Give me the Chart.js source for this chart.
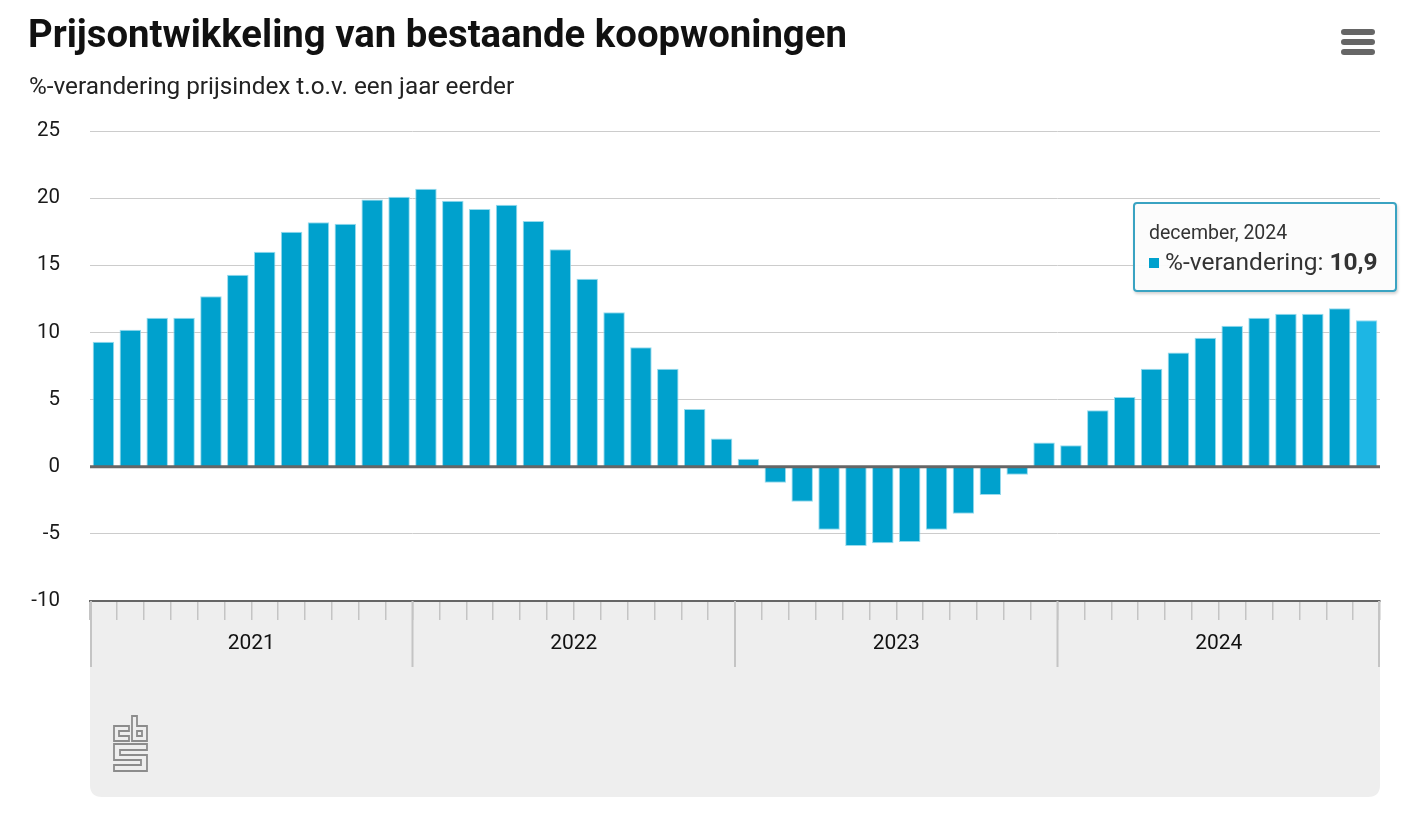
<!DOCTYPE html>
<html lang="nl">
<head>
  <meta charset="UTF-8" />
  <title>Prijsontwikkeling van bestaande koopwoningen</title>
  <script src="https://cdn.jsdelivr.net/npm/chart.js"></script>
  <style>
    html, body { margin: 0; padding: 0; background: #fff; }
    body { width: 1416px; height: 817px; position: relative; overflow: hidden; font-family: Roboto, sans-serif; }
    .titel { position: absolute; left: 28px; top: 11px; font-size: 38.3px; font-weight: 700; color: #111; white-space: nowrap; }
    .sub { position: absolute; left: 29px; top: 71px; font-size: 24.3px; color: #222; white-space: nowrap; }
    .menu { position: absolute; left: 1341px; top: 29px; width: 34px; }
    .menu span { display: block; height: 6px; border-radius: 3px; background: #666; margin-bottom: 4px; }
    .wrap { position: absolute; left: 0; top: 0; width: 1416px; height: 817px; }
    .logo { position: absolute; left: 112px; top: 714px; }
    .tip { position: absolute; left: 1133px; top: 202px; width: 264px; height: 90px; box-sizing: border-box;
           border: 2px solid #3aa3c2; border-radius: 4px; background: rgba(252,252,252,0.96);
           box-shadow: 1px 2px 3px rgba(0,0,0,0.18); padding: 17px 0 0 14px; color: #333; }
    .tip .kop { font-size: 19.5px; }
    .tip .regel { font-size: 24.5px; margin-top: 3px; }
    .tip .blok { display: inline-block; width: 10px; height: 10px; background: #00a1cd; margin-right: 6px; vertical-align: 2px; }
  </style>
</head>
<body>
  <div class="wrap"><canvas id="chart"></canvas></div>
  <div class="titel">Prijsontwikkeling van bestaande koopwoningen</div>
  <div class="sub">%-verandering prijsindex t.o.v. een jaar eerder</div>
  <div class="menu"><span></span><span></span><span></span></div>
  <svg class="logo" width="40" height="60" viewBox="0 0 40 60" fill="none" stroke="#8c8c8c" stroke-width="1.8">
    <path d="M2 12 H17 V17 H7 V22 H17 V27 H2 Z" />
    <path d="M20 2 H25 V12 H35 V27 H20 Z" />
    <path d="M25 17 H30 V22 H25 Z" />
    <path d="M2 30 H35 V36 H8 V41 H35 V57 H2 V51 H29 V46 H2 Z" />
  </svg>
  <div class="tip" id="tip"></div>

<script>
const jaren = ['2021', '2022', '2023', '2024'];
const maanden = ['januari', 'februari', 'maart', 'april', 'mei', 'juni',
  'juli', 'augustus', 'september', 'oktober', 'november', 'december'];

// %-verandering t.o.v. een jaar eerder, per maand
const waarden2021 = [9.3, 10.2, 11.1, 11.1, 12.7, 14.3, 16.0, 17.5, 18.2, 18.1, 19.9, 20.1];
const waarden2022 = [20.7, 19.8, 19.2, 19.5, 18.3, 16.2, 14.0, 11.5, 8.9, 7.3, 4.3, 2.1];
const waarden2023 = [0.6, -1.2, -2.6, -4.7, -5.9, -5.7, -5.6, -4.7, -3.5, -2.1, -0.6, 1.8];
const waarden2024 = [1.6, 4.2, 5.2, 7.3, 8.5, 9.6, 10.5, 11.1, 11.4, 11.4, 11.8, 10.9];

const yTicks = [-10, -5, 0, 5, 10, 15, 20, 25];

const labels = [];
jaren.forEach(j => maanden.forEach(m => labels.push(m + ', ' + j)));
const waarden = [].concat(waarden2021, waarden2022, waarden2023, waarden2024);

const actief = waarden.length - 1;
const kleuren = waarden.map((v, i) => i === actief ? '#1db6e4' : '#00a1cd');

// tooltip tekst
document.getElementById('tip').innerHTML =
  '<div class="kop">' + labels[actief] + '</div>' +
  '<div class="regel"><span class="blok"></span>%-verandering: <b>' +
  String(waarden[actief]).replace('.', ',') + '</b></div>';

const xAs = {
  id: 'xAs',
  beforeDraw(chart) {
    const { ctx, chartArea } = chart;
    const l = chartArea.left, r = chartArea.right, t = chartArea.bottom, b = 797, rad = 12;
    ctx.save();
    ctx.fillStyle = '#eeeeee';
    ctx.beginPath();
    ctx.moveTo(l, t);
    ctx.lineTo(r, t);
    ctx.lineTo(r, b - rad);
    ctx.quadraticCurveTo(r, b, r - rad, b);
    ctx.lineTo(l + rad, b);
    ctx.quadraticCurveTo(l, b, l, b - rad);
    ctx.closePath();
    ctx.fill();
    ctx.restore();
  },
  afterDatasetsDraw(chart) {
    const { ctx, chartArea, scales } = chart;
    const x = scales.x, y = scales.y;
    ctx.save();
    // nullijn
    const y0 = y.getPixelForValue(0);
    ctx.strokeStyle = '#666';
    ctx.lineWidth = 3;
    ctx.beginPath();
    ctx.moveTo(chartArea.left, y0);
    ctx.lineTo(chartArea.right, y0);
    ctx.stroke();
    // jaarscheidingen + labels
    ctx.strokeStyle = '#c4c4c4';
    ctx.lineWidth = 2;
    for (let j = 0; j <= jaren.length; j++) {
      let px;
      if (j === 0) px = chartArea.left + 1;
      else if (j === jaren.length) px = chartArea.right - 1;
      else px = (x.getPixelForValue(j * 12 - 1) + x.getPixelForValue(j * 12)) / 2;
      ctx.beginPath();
      ctx.moveTo(px, chartArea.bottom);
      ctx.lineTo(px, chartArea.bottom + 66);
      ctx.stroke();
    }
    ctx.fillStyle = '#111';
    ctx.font = '21px Roboto, sans-serif';
    ctx.textAlign = 'center';
    ctx.textBaseline = 'middle';
    jaren.forEach((j, i) => {
      const cx = (x.getPixelForValue(i * 12) + x.getPixelForValue(i * 12 + 11)) / 2;
      ctx.fillText(j, cx, chartArea.bottom + 43);
    });
    ctx.restore();
  }
};

new Chart(document.getElementById('chart'), {
  type: 'bar',
  data: {
    labels: labels,
    datasets: [{
      label: '%-verandering',
      data: waarden,
      backgroundColor: kleuren,
      borderColor: 'rgba(140,215,235,0.9)',
      borderWidth: 1,
      barPercentage: 0.8,
      categoryPercentage: 1
    }]
  },
  options: {
    responsive: true,
    maintainAspectRatio: false,
    animation: false,
    layout: { padding: { top: 131, right: 36, bottom: 216, left: 0 } },
    plugins: { legend: { display: false }, tooltip: { enabled: false } },
    scales: {
      x: {
        afterFit: s => { s.height = 0; },
        ticks: { display: false },
        grid: { offset: true, drawOnChartArea: false, drawTicks: true, tickLength: 19, color: '#c4c4c4', lineWidth: 1.5 },
        border: { display: true, color: '#666', width: 2 }
      },
      y: {
        min: -10,
        max: 25,
        afterFit: s => { s.width = 90; },
        afterBuildTicks: s => { s.ticks = yTicks.map(v => ({ value: v })); },
        ticks: { color: '#1a1a1a', font: { family: 'Roboto', size: 20.5 }, padding: 30 },
        grid: { color: '#cccccc', lineWidth: 1, drawTicks: false },
        border: { display: false }
      }
    }
  },
  plugins: [xAs]
});
</script>
</body>
</html>
